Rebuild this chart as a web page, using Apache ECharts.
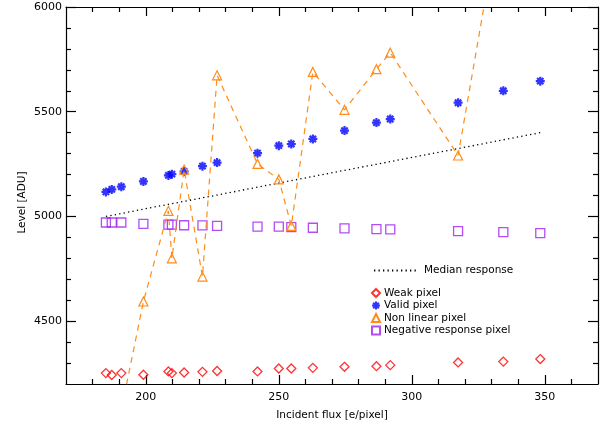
<!DOCTYPE html>
<html>
<head>
<meta charset="utf-8">
<script src="https://cdn.jsdelivr.net/npm/echarts@6/dist/echarts.min.js"></script>
<style>
html,body{margin:0;padding:0;background:#fff;}
#chart{width:606px;height:426px;}
</style>
</head>
<body>
<div id="chart"></div>
<script>
// ---- data ----
const flux = [185.0, 187.2, 190.8, 199.1, 208.5, 209.8, 214.4, 221.3, 226.8, 242.0, 250.0, 254.7, 262.8, 274.7, 286.7, 291.9, 317.4, 334.4, 348.3];
const weakPixel = [4252, 4243, 4252, 4244, 4260, 4252, 4255, 4258, 4262, 4260, 4274, 4274, 4277, 4282, 4285, 4290, 4303, 4307, 4319];
const validPixel = [5117, 5129, 5142, 5167, 5196, 5202, 5215, 5240, 5257, 5302, 5338, 5346, 5370, 5410, 5448, 5465, 5543, 5600, 5646];
const nonLinearPixel = [3900, 3960, 4075, 4594, 5027, 4800, 5224, 4713, 5674, 5251, 5177, 4955, 5690, 5509, 5703, 5782, 5291, 6532, 6850];
const negativePixel = [4971, 4971, 4971, 4965, 4961, 4961, 4958, 4957, 4955, 4951, 4951, 4949, 4946, 4943, 4939, 4938, 4930, 4925, 4920];
const medianResponse = [5000, 5005, 5014, 5035, 5058, 5061, 5072, 5089, 5102, 5140, 5159, 5171, 5191, 5220, 5249, 5262, 5324, 5366, 5400];

const xMajorTicks = [200, 250, 300, 350];
const xMinorTicks = [180, 190, 210, 220, 230, 240, 260, 270, 280, 290, 310, 320, 330, 340, 360];
const yMajorTicks = [4500, 5000, 5500, 6000];
const yMinorTicks = [4300, 4400, 4600, 4700, 4800, 4900, 5100, 5200, 5300, 5400, 5600, 5700, 5800, 5900];

const names = ['Median response', 'Weak pixel', 'Valid pixel', 'Non linear pixel', 'Negative response pixel'];

// ---- chart ----
const FONT = 'DejaVu Sans';
const AXC = '#000';
const asterisk = 'path://M5,0L5,10M0,5L10,5M1.5,1.5L8.5,8.5M8.5,1.5L1.5,8.5';
const pairs = arr => flux.map((x, i) => [x, arr[i]]);
const plain = v => String(v);

function xAx(pos, ticks, len, showLine, showLabel, extra) {
  return Object.assign({
    type: 'value', position: pos, min: 170, max: 370,
    axisLine: { show: showLine, onZero: false, lineStyle: { color: AXC, width: 1.2 } },
    axisTick: { show: true, inside: true, length: len, customValues: ticks, lineStyle: { color: AXC, width: 1.2 } },
    axisLabel: showLabel ? { show: true, customValues: ticks, formatter: plain, color: '#000', fontFamily: FONT, fontSize: 11, margin: 8 } : { show: false },
    splitLine: { show: false }
  }, extra || {});
}
function yAx(pos, ticks, len, showLine, showLabel, extra) {
  return Object.assign({
    type: 'value', position: pos, min: 4200, max: 6000,
    axisLine: { show: showLine, onZero: false, lineStyle: { color: AXC, width: 1.2 } },
    axisTick: { show: true, inside: true, length: len, customValues: ticks, lineStyle: { color: AXC, width: 1.2 } },
    axisLabel: showLabel ? { show: true, customValues: ticks, formatter: plain, color: '#000', fontFamily: FONT, fontSize: 11, margin: 4 } : { show: false },
    splitLine: { show: false }
  }, extra || {});
}

const chart = echarts.init(document.getElementById('chart'), null, { renderer: 'canvas' });
chart.setOption({
  animation: false,
  backgroundColor: '#fff',
  grid: { left: 66, right: 8, top: 7, bottom: 40, containLabel: false },
  xAxis: [
    xAx('bottom', xMajorTicks, 9, true, true, {
      name: 'Incident flux [e/pixel]', nameLocation: 'middle', nameGap: 26,
      nameTextStyle: { color: '#000', fontFamily: FONT, fontSize: 10.5 }
    }),
    xAx('bottom', xMinorTicks, 5, false, false),
    xAx('top', xMajorTicks, 9, true, false),
    xAx('top', xMinorTicks, 5, false, false)
  ],
  yAxis: [
    yAx('left', yMajorTicks, 10, true, true, {
      name: 'Level [ADU]', nameLocation: 'middle', nameGap: 38, nameMoveOverlap: false,
      nameTextStyle: { color: '#000', fontFamily: FONT, fontSize: 10.5, padding: [0, 14, 0, 0] }
    }),
    yAx('left', yMinorTicks, 5, false, false),
    yAx('right', yMajorTicks, 10, true, false),
    yAx('right', yMinorTicks, 5, false, false)
  ],
  legend: [
    {
      data: [names[0]], left: 368, top: 260, itemWidth: 42, itemHeight: 10,
      itemStyle: { opacity: 0 },
      textStyle: { color: '#000', fontFamily: FONT, fontSize: 10.5, padding: [0, 0, 0, 3] },
      selectedMode: false
    },
    {
      data: [
        { name: names[1], icon: 'diamond' },
        { name: names[2], icon: asterisk },
        { name: names[3], icon: 'triangle' },
        { name: names[4], icon: 'rect' }
      ],
      orient: 'vertical', left: 366, top: 282.5, itemWidth: 8, itemHeight: 8, itemGap: 1.5,
      textStyle: { color: '#000', fontFamily: FONT, fontSize: 10.5, padding: [0, 0, 0, -1] },
      selectedMode: false
    }
  ],
  series: [
    {
      name: names[0], type: 'line', data: pairs(medianResponse), symbol: 'none',
      lineStyle: { color: '#000', width: 1.3, type: [1.3, 3.2] }, itemStyle: { color: '#000' }, z: 2
    },
    {
      name: names[1], type: 'scatter', data: pairs(weakPixel), symbol: 'diamond', symbolSize: 9,
      itemStyle: { color: 'rgba(255,255,255,0)', borderColor: '#ff0000', borderWidth: 1.3 }, z: 3
    },
    {
      name: names[2], type: 'scatter', data: pairs(validPixel), symbol: asterisk, symbolSize: 9,
      itemStyle: { color: 'rgba(255,255,255,0)', borderColor: '#0000ff', borderWidth: 2.2 }, z: 3
    },
    {
      name: names[3], type: 'line', data: pairs(nonLinearPixel), symbol: 'triangle', symbolSize: 9,
      showAllSymbol: true, clip: true,
      lineStyle: { color: '#ff8c1a', width: 1.2, type: [6, 5] },
      itemStyle: { color: 'rgba(255,255,255,0)', borderColor: '#ff8c1a', borderWidth: 1.2 }, z: 4
    },
    {
      name: names[4], type: 'scatter', data: pairs(negativePixel), symbol: 'rect', symbolSize: 9,
      itemStyle: { color: 'rgba(255,255,255,0)', borderColor: '#a020f0', borderWidth: 1.3 }, z: 3
    }
  ]
});
</script>
</body>
</html>
